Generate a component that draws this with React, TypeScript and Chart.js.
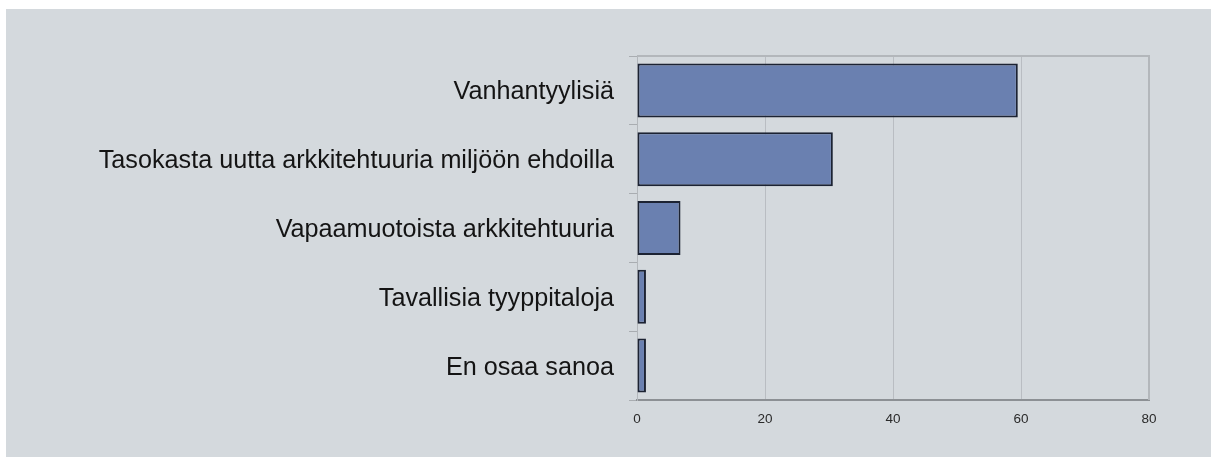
import React, { useEffect, useRef } from "react";
import { Chart, registerables } from "chart.js";

Chart.register(...registerables);

const categories = [
  "Vanhantyylisiä",
  "Tasokasta uutta arkkitehtuuria miljöön ehdoilla",
  "Vapaamuotoista arkkitehtuuria",
  "Tavallisia tyyppitaloja",
  "En osaa sanoa",
];
const values = [59.5, 30.6, 6.8, 1.4, 1.4];
const xTicks = [0, 20, 40, 60, 80];

const W = 1211;
const H = 457;
const PLOT_LEFT = 637;
const PLOT_RIGHT = 1149;
const PLOT_TOP = 56;
const PLOT_BOTTOM = 400;

const panelPlugin = {
  id: "panel",
  beforeDraw(chart: any) {
    const ctx = chart.ctx;
    ctx.save();
    ctx.fillStyle = "#ffffff";
    ctx.fillRect(0, 0, chart.width, chart.height);
    ctx.fillStyle = "#d4d9dd";
    ctx.fillRect(6, 9, chart.width - 6, chart.height - 9);
    ctx.restore();
  },
  beforeDatasetsDraw(chart: any) {
    const { ctx, chartArea } = chart;
    ctx.save();
    ctx.strokeStyle = "#b3b7bb";
    ctx.lineWidth = 2;
    ctx.beginPath();
    ctx.moveTo(chartArea.left, chartArea.top);
    ctx.lineTo(chartArea.right, chartArea.top);
    ctx.lineTo(chartArea.right, chartArea.bottom);
    ctx.stroke();
    ctx.restore();
  },
};

export default function App() {
  const ref = useRef<HTMLCanvasElement | null>(null);
  useEffect(() => {
    document.body.style.margin = "0";
    const canvas = ref.current;
    if (!canvas) return;
    const padLeft = 10;
    const padBottom = 10;
    const chart = new Chart(canvas, {
      type: "bar",
      data: {
        labels: categories,
        datasets: [
          {
            data: values,
            backgroundColor: "#6a80b0",
            borderColor: "#1c2333",
            borderWidth: 2,
            borderSkipped: false,
            categoryPercentage: 1,
            barPercentage: 0.785,
          },
        ],
      },
      options: {
        indexAxis: "y",
        responsive: false,
        animation: false,
        events: [],
        layout: {
          padding: {
            left: padLeft,
            top: PLOT_TOP,
            right: W - PLOT_RIGHT,
            bottom: padBottom,
          },
        },
        plugins: {
          legend: { display: false },
          tooltip: { enabled: false },
          title: { display: false },
        },
        scales: {
          x: {
            type: "linear",
            min: 0,
            max: 80,
            afterBuildTicks(scale: any) {
              scale.ticks = xTicks.map((v) => ({ value: v }));
            },
            afterFit(scale: any) {
              scale.height = H - PLOT_BOTTOM - padBottom;
            },
            grid: {
              color: "#b9bdc2",
              lineWidth: 1,
              drawTicks: false,
            },
            border: { color: "#8c9094", width: 2 },
            ticks: {
              padding: 11,
              color: "#2a2a2a",
              font: { family: "Liberation Sans", size: 13.5 },
              maxRotation: 0,
            },
          },
          y: {
            type: "category",
            offset: true,
            afterFit(scale: any) {
              scale.width = PLOT_LEFT - padLeft;
            },
            grid: {
              offset: true,
              drawOnChartArea: false,
              drawTicks: true,
              tickLength: 8,
              color: "#a9adb1",
              lineWidth: 1,
            },
            border: { color: "#b3b7bb", width: 1 },
            ticks: {
              padding: 15,
              labelOffset: 2,
              color: "#141414",
              font: { family: "Liberation Sans", size: 25.2 },
              autoSkip: false,
            },
          },
        },
      },
      plugins: [panelPlugin],
    });
    return () => chart.destroy();
  }, []);
  return (
    <div style={{ width: W, height: H }}>
      <canvas ref={ref} width={W} height={H} style={{ display: "block" }} />
    </div>
  );
}
